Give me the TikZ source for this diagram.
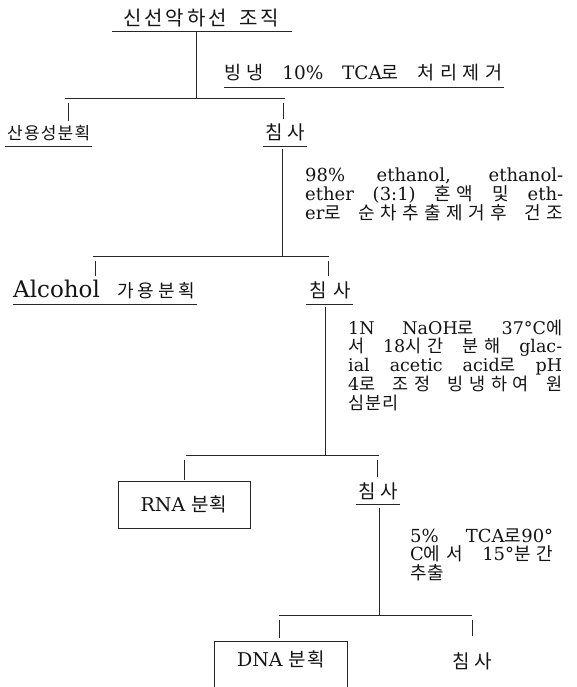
\documentclass[tikz,border=0pt]{standalone}
\usepackage{fontspec}
\setmainfont{DejaVu Serif}
\newfontfamily\kr{Noto Sans CJK KR}
% automatic switch to the Korean font for Hangul syllables
\XeTeXinterchartokenstate=1
\chardef\hgcls=10
\newcount\hgc
\hgc="AC00
\loop \XeTeXcharclass\hgc=\hgcls \ifnum\hgc<"D7A3 \advance\hgc by 1 \repeat
\XeTeXinterchartoks 0 \hgcls={\begingroup\kr}
\XeTeXinterchartoks 4095 \hgcls={\begingroup\kr}
\XeTeXinterchartoks \hgcls 0={\endgroup}
\XeTeXinterchartoks \hgcls 4095={\endgroup}
\XeTeXinterchartoks \hgcls \hgcls={\hskip 1.2pt plus 1pt\relax}
\newcommand\jl[2][\linewidth]{\makebox[#1][s]{#2}}
\newcommand\fs[2]{\fontsize{#1}{#2}\selectfont\lineskiplimit=-30pt\relax}
\begin{document}
\begin{tikzpicture}[x=1pt,y=-1pt,
  ln/.style={line width=0.75pt, draw=black!85},
  txt/.style={inner sep=0pt, text=black!92},
  lab/.style={txt, anchor=base west},
  box/.style={txt, draw=black!85, line width=0.75pt},
]
\useasboundingbox (0,0) rectangle (576,687);
\clip (0,0) rectangle (576,687);

% ---------- level 0
\node[txt, anchor=base] (n0) at (201,26) {\fs{20}{20}\jl[156pt]{신선악하선 조직}};
\coordinate (u0a) at ([xshift=-11pt,yshift=-5pt]n0.base west);
\coordinate (u0b) at ([xshift=13pt,yshift=-5pt]n0.base east);
\draw[ln] (u0a) -- (u0b);

% step 1
\node[lab] (e1) at (224,80) {\fs{18.5}{18.5}\jl[278pt]{빙냉 10\% TCA로 처리제거}};
\coordinate (ue1a) at ([yshift=-7pt]e1.base west);
\coordinate (ue1b) at ([xshift=2pt,yshift=-7pt]e1.base east);
\draw[ln] (ue1a) -- (ue1b);

\coordinate (j1) at (196,98);
\coordinate (b1a) at (65,98);
\coordinate (b1b) at (285,98);
\draw[ln] (j1 |- u0a) -- (j1);
\draw[ln] (b1a) -- (b1b);

% level 1
\node[lab] (n1a) at (7,140) {\fs{17}{17}산용성분획};
\coordinate (u1aa) at ([xshift=-2pt,yshift=-6pt]n1a.base west);
\coordinate (u1ab) at ([xshift=2pt,yshift=-6pt]n1a.base east);
\draw[ln] (u1aa) -- (u1ab);

\node[txt, anchor=base] (n1b) at (285,140) {\fs{19}{19}\jl[40pt]{침사}};
\coordinate (u1ba) at ([xshift=-2pt,yshift=-6pt]n1b.base west);
\coordinate (u1bb) at ([xshift=2pt,yshift=-6pt]n1b.base east);
\draw[ln] (u1ba) -- (u1bb);

\coordinate (t1a) at (68,103);
\coordinate (t1b) at (283,103);
\draw[ln, shorten >=5pt] (t1a) -- (t1a |- n1a.north);
\draw[ln, shorten >=5pt] (t1b) -- (t1b |- n1b.north);

% step 2
\node[lab] (e2) at (305,182) {\parbox[t]{258pt}{\fs{18}{18.5}%
  \jl{98\% ethanol, ethanol-}\\
  \jl{ether (3:1) 혼액 및 eth-}\\
  \jl{er로 순차추출제거후 건조}}};

\coordinate (j2) at (282,256);
\coordinate (b2a) at (93,256);
\coordinate (b2b) at (329,256);
\draw[ln] ([yshift=-3pt]j2 |- u1ba) -- (j2);
\draw[ln] (b2a) -- (b2b);

% level 2
\node[lab] (n2a) at (13,297) {\jl[182pt]{\fs{23}{23}Alcohol \fs{18}{18}가용분획}};
\coordinate (u2aa) at ([yshift=-7pt]n2a.base west);
\coordinate (u2ab) at ([xshift=2pt,yshift=-7pt]n2a.base east);
\draw[ln] (u2aa) -- (u2ab);

\node[txt, anchor=base] (n2b) at (330,297) {\fs{19}{19}\jl[42pt]{침사}};
\coordinate (u2ba) at ([xshift=-3pt,yshift=-7pt]n2b.base west);
\coordinate (u2bb) at ([xshift=2pt,yshift=-7pt]n2b.base east);
\draw[ln] (u2ba) -- (u2bb);

\coordinate (t2a) at (95,261);
\coordinate (t2b) at (328,261);
\draw[ln, shorten >=3pt] (t2a) -- (t2a |- n2a.north);
\draw[ln, shorten >=5pt] (t2b) -- (t2b |- n2b.north);

% step 3
\node[lab] (e3) at (348,334) {\parbox[t]{214pt}{\fs{17.5}{18.8}%
  \jl{1N NaOH로 37°C에}\\
  \jl{서 18시간 분해 glac-}\\
  \jl{ial acetic acid로 pH}\\
  \jl{4로 조정 빙냉하여 원}\\
  심분리}};

\coordinate (j3) at (325,455);
\coordinate (b3a) at (186,455);
\coordinate (b3b) at (379,455);
\draw[ln] ([yshift=-3pt]j3 |- u2ba) -- (j3);
\draw[ln] (b3a) -- (b3b);

% level 3
\node[box, minimum width=132pt, minimum height=47pt] (n3a) at (184,504.5)
  {\fs{19}{19}RNA 분획};
\node[txt, anchor=base] (n3b) at (378,498) {\fs{19}{19}\jl[40pt]{침사}};
\coordinate (u3ba) at ([xshift=-2pt,yshift=-6pt]n3b.base west);
\coordinate (u3bb) at ([xshift=2pt,yshift=-6pt]n3b.base east);
\draw[ln] (u3ba) -- (u3bb);

\coordinate (t3a) at (184,460);
\coordinate (t3b) at (377,460);
\draw[ln, shorten >=1pt] (t3a) -- (t3a |- n3a.north);
\draw[ln, shorten >=5pt] (t3b) -- (t3b |- n3b.north);

% step 4
\node[lab] (e4) at (410,542) {\parbox[t]{143pt}{\fs{18}{18.5}%
  \jl{5\% TCA로90°}\\
  \jl{C에서 15°분간}\\
  추출}};

\coordinate (j4) at (379,615);
\coordinate (b4a) at (279,615);
\coordinate (b4b) at (472,615);
\draw[ln] ([yshift=-4pt]j4 |- u3ba) -- (j4);
\draw[ln] (b4a) -- (b4b);

% level 4
\node[txt, minimum width=132pt, minimum height=36pt, anchor=north] (n4a) at (281,641)
  {\fs{19}{19}DNA 분획};
\coordinate (d4a) at ([yshift=-20pt]n4a.south west);
\coordinate (d4b) at ([yshift=-20pt]n4a.south east);
\draw[ln] (d4a) |- (n4a.north east) -- (d4b);

\node[txt, anchor=base] (n4b) at (472,668) {\fs{19}{19}\jl[40pt]{침사}};

\coordinate (t4a) at (279,620);
\coordinate (t4b) at (472,620);
\draw[ln, shorten >=3pt] (t4a) -- (t4a |- n4a.north);
\draw[ln, shorten >=16pt] (t4b) -- (t4b |- n4b.north);
\end{tikzpicture}
\end{document}
